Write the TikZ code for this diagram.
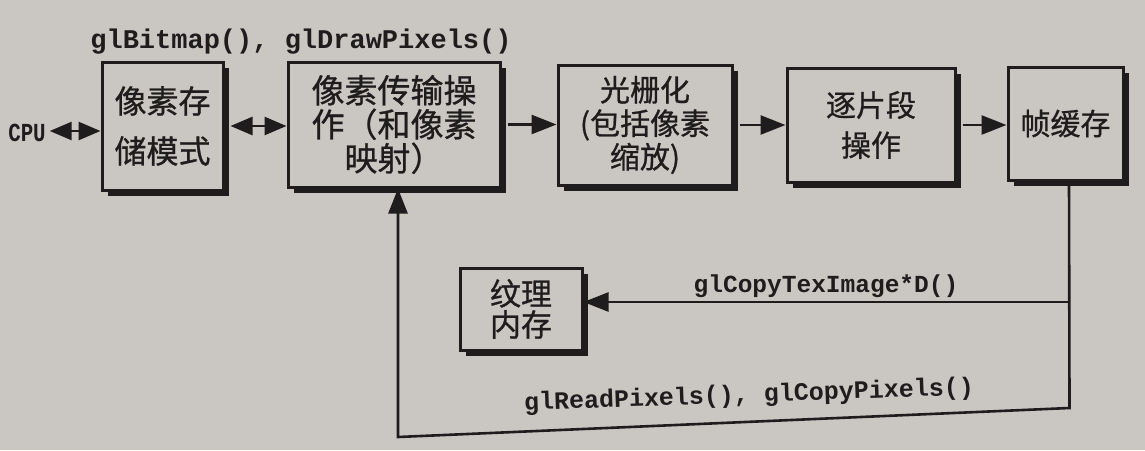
\documentclass[tikz,border=0pt]{standalone}
\usepackage{fontspec}
\newfontfamily\cjkfont{Noto Sans CJK SC}[FakeBold=0.8]
\newfontfamily\monofont{Liberation Mono}
\usetikzlibrary{arrows.meta,shadows}
\definecolor{paper}{RGB}{202,199,195}
\definecolor{ink}{RGB}{30,28,28}
\begin{document}
\begin{tikzpicture}[x=1pt,y=-1pt,
  box/.style={draw=ink, line width=3pt, fill=paper, inner sep=0pt, align=center, text=ink,
    drop shadow={shadow xshift=6pt, shadow yshift=-6pt, fill=ink, opacity=1}},
  conn/.style={draw=ink, line width=2.6pt},
  arr/.style={conn, -{Triangle[length=25pt,width=19pt]}},
  darr/.style={conn, {Triangle[length=22pt,width=18pt]}-{Triangle[length=22pt,width=18pt]}},
  lbl/.style={text=ink, inner sep=0pt},
]
\fill[paper] (0,0) rectangle (1145,450);
\useasboundingbox (0,0) rectangle (1145,450);

% boxes
\node[box, minimum width=121pt, minimum height=128pt, font=\cjkfont\fontsize{32}{50}\selectfont]
  (b1) at (162.5,126) {像素存\\储模式};
\node[box, minimum width=212pt, minimum height=125pt, font=\cjkfont\fontsize{33}{34}\selectfont]
  (b2) at (394,124.5) {像素传输操\\作（和像素\\映射）};
\node[box, minimum width=174pt, minimum height=120pt, font=\cjkfont\fontsize{30}{33.5}\selectfont]
  (b3) at (645,125) {光栅化\\(包括像素\\缩放)};
\node[box, minimum width=168pt, minimum height=114pt, font=\cjkfont\fontsize{30}{40}\selectfont]
  (b4) at (871,125) {逐片段\\操作};
\node[box, minimum width=115pt, minimum height=113pt, font=\cjkfont\fontsize{30}{34}\selectfont]
  (b5) at (1065.5,123.5) {帧缓存};
\node[box, minimum width=122pt, minimum height=82pt, font=\cjkfont\fontsize{31}{31}\selectfont]
  (tex) at (521,309) {纹理\\内存};

% labels
\node[lbl, font=\monofont\bfseries\fontsize{26}{26}\selectfont, outer xsep=4pt] (cpu) at (27,133) {\scalebox{0.8}[1]{CPU}};
\node[lbl, font=\monofont\bfseries\fontsize{27}{27}\selectfont] (l1) at (301,42) {glBitmap(), glDrawPixels()};
\node[lbl, font=\monofont\bfseries\fontsize{24.5}{24.5}\selectfont] (l2) at (826,286) {glCopyTexImage*D()};
\node[lbl, font=\monofont\bfseries\fontsize{25}{25}\selectfont, rotate=2] (l3) at (749,396) {glReadPixels(), glCopyPixels()};

% coordinates of the feedback loop
\coordinate (br) at (1069.5,408);
\coordinate (bl) at (398,437);
\coordinate (tj) at (1069.2,302);

% connectors
\draw[darr] ([yshift=2pt]cpu.east) -- ([yshift=2pt]cpu.east -| b1.west);
\draw[darr, shorten <=6pt] (b1.east) -- (b1.east -| b2.west);
\draw[arr, shorten <=6pt] (b2.east) -- (b2.east -| b3.west);
\draw[arr, shorten <=6pt] (b3.east) -- (b3.east -| b4.west);
\draw[arr, shorten <=6pt] (b4.east) -- (b4.east -| b5.west);
\draw[arr, line join=miter] ([xshift=3.5pt]b5.south) -- (br) -- (bl) -- (bl |- b2.south);
\draw[arr] (tj) -- (tj -| tex.east);
\end{tikzpicture}
\end{document}
